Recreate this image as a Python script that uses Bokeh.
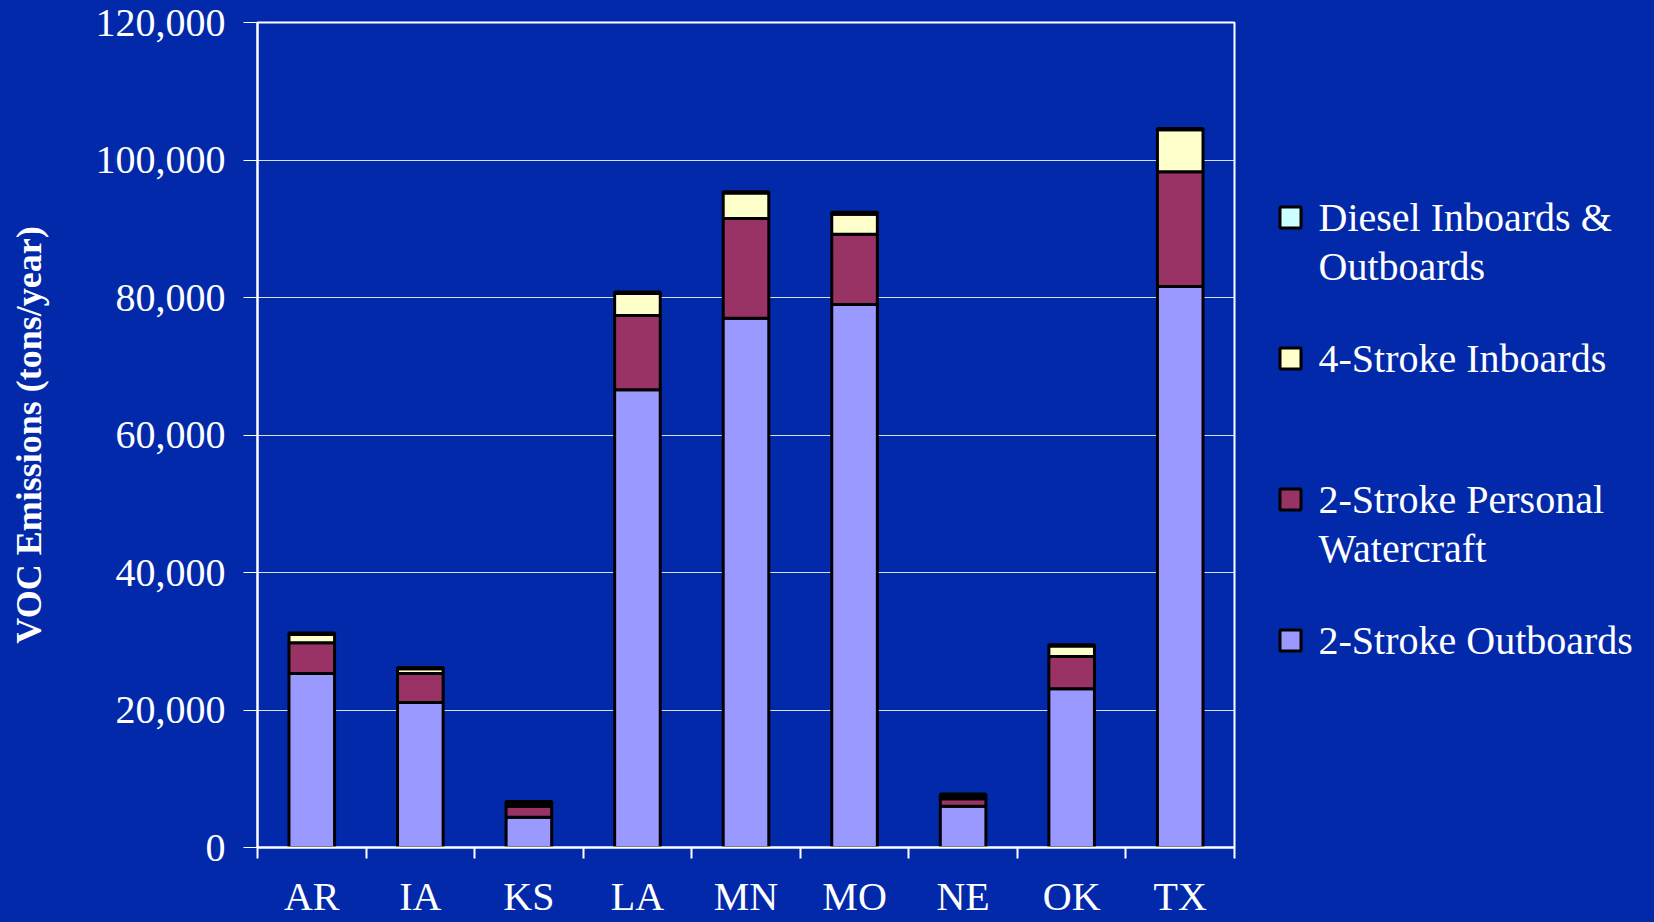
from bokeh.plotting import figure
from bokeh.models import Range1d, FixedTicker, NumeralTickFormatter
from bokeh.layouts import row
from bokeh.embed import file_html
from bokeh.resources import INLINE
from bokeh.core.properties import value

# Recreational boat VOC emissions by state (tons/year)
states = ["AR", "IA", "KS", "LA", "MN", "MO", "NE", "OK", "TX"]
two_stroke_outboards = [25300, 21100, 4400, 66600, 77000, 79000, 6000, 23100, 81600]
two_stroke_pwc = [4500, 4200, 1600, 10800, 14500, 10200, 1100, 4700, 16700]
four_stroke_inboards = [1200, 700, 400, 3200, 3700, 2900, 400, 1500, 6100]
diesel_in_outboards = [200, 200, 300, 200, 200, 300, 300, 200, 200]

series_keys = ["outboards", "pwc", "four", "diesel"]
series_labels = ["2-Stroke Outboards", "2-Stroke Personal\nWatercraft",
                 "4-Stroke Inboards", "Diesel Inboards &\nOutboards"]
series_colors = ["#9999FF", "#993366", "#FFFFCC", "#CCFFFF"]
y_ticks = [0, 20000, 40000, 60000, 80000, 100000, 120000]

BG = "#0229AA"
FONT = "Liberation Serif"
TOP, BOTTOM = 22, 75

x_pos = [i + 0.5 for i in range(len(states))]
source = dict(x=x_pos, outboards=two_stroke_outboards, pwc=two_stroke_pwc,
              four=four_stroke_inboards, diesel=diesel_in_outboards)

p = figure(width=1240, height=922, output_backend="svg", toolbar_location=None,
           x_range=Range1d(0, len(states)), y_range=Range1d(0, 120000),
           min_border_left=257, min_border_right=6, min_border_top=TOP,
           min_border_bottom=BOTTOM)
p.background_fill_color = BG
p.border_fill_color = BG
p.outline_line_color = "white"
p.outline_line_width = 2

p.vbar_stack(series_keys, x="x", width=0.42, source=source,
             fill_color=series_colors, line_color="black", line_width=3)

# category axis: labels at bar centres, ticks on the boundaries
xa = p.xaxis[0]
xa.ticker = FixedTicker(ticks=x_pos, minor_ticks=list(range(len(states) + 1)))
xa.major_label_overrides = {x: s for x, s in zip(x_pos, states)}
xa.major_tick_out = 0
xa.major_tick_in = 0
xa.minor_tick_out = 11
xa.minor_tick_in = 0
xa.minor_tick_line_color = "white"
xa.minor_tick_line_width = 2
xa.axis_line_color = "white"
xa.axis_line_width = 2
xa.major_label_text_color = "white"
xa.major_label_text_font = FONT
xa.major_label_text_font_size = "40px"
xa.major_label_standoff = 15

ya = p.yaxis[0]
ya.ticker = FixedTicker(ticks=y_ticks)
ya.formatter = NumeralTickFormatter(format="0,0")
ya.major_tick_out = 14
ya.major_tick_in = 0
ya.major_tick_line_color = "white"
ya.major_tick_line_width = 1
ya.minor_tick_line_color = None
ya.axis_line_color = "white"
ya.axis_line_width = 2
ya.major_label_text_color = "white"
ya.major_label_text_font = FONT
ya.major_label_text_font_size = "40px"
ya.major_label_standoff = 18
ya.axis_label = "VOC Emissions (tons/year)"
ya.axis_label_text_color = "white"
ya.axis_label_text_font = FONT
ya.axis_label_text_font_style = "bold"
ya.axis_label_text_font_size = "36px"
ya.axis_label_standoff = 44

p.xgrid.grid_line_color = None
p.ygrid.grid_line_color = "white"
p.ygrid.grid_line_width = 1
p.ygrid.grid_line_alpha = 0.85

# legend panel; its frame lines up with the chart frame, so the y range is
# expressed in page pixels (top of frame = TOP, bottom = 922 - BOTTOM)
leg = figure(width=414, height=922, output_backend="svg", toolbar_location=None,
             x_range=Range1d(0, 414), y_range=Range1d(922 - BOTTOM, TOP),
             min_border_left=0, min_border_right=0,
             min_border_top=TOP, min_border_bottom=BOTTOM)
leg.background_fill_color = BG
leg.border_fill_color = BG
leg.outline_line_color = None
leg.axis.visible = False
leg.grid.visible = False

entry_top = 217
entry_step = 141
line_gap = 49
order = [3, 2, 1, 0]  # top-most series first
sq_x, sq_y, sq_c = [], [], []
tx, ty, tt = [], [], []
for k, idx in enumerate(order):
    y0 = entry_top + k * entry_step
    sq_x.append(50)
    sq_y.append(y0)
    sq_c.append(series_colors[idx])
    for j, line in enumerate(series_labels[idx].split("\n")):
        tx.append(78)
        ty.append(y0 + j * line_gap)
        tt.append(line)

leg.rect(x=sq_x, y=sq_y, width=21, height=21, fill_color=sq_c,
         line_color="black", line_width=3)
leg.text(x=tx, y=ty, text=tt, text_color="white", text_font=value(FONT),
         text_font_size="40px", text_baseline="middle", text_align="left")

layout = row(p, leg, spacing=0)
layout.styles = {"background-color": BG}
open("out.html", "w").write(file_html(layout, INLINE))
